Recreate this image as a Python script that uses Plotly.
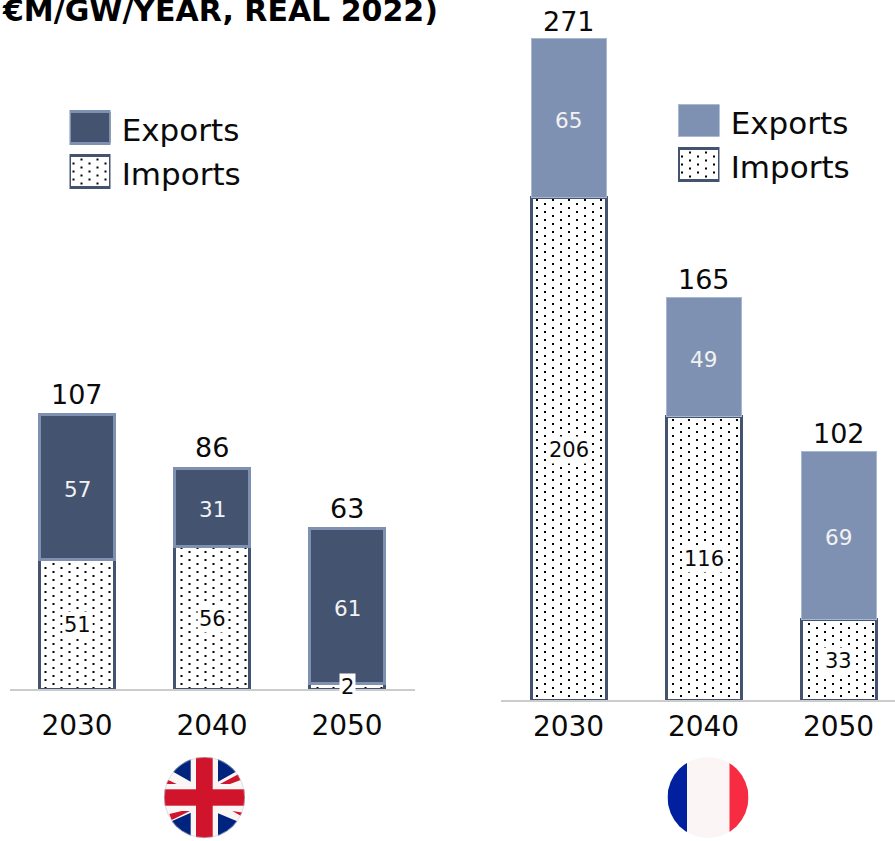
import base64
import plotly.graph_objects as go

YEARS = ["2030", "2040", "2050"]
UK_EXPORTS = [57, 31, 61]
UK_IMPORTS = [51, 56, 2]
UK_TOTALS = [107, 86, 63]
FR_EXPORTS = [65, 49, 69]
FR_IMPORTS = [206, 116, 33]
FR_TOTALS = [271, 165, 102]
LEGEND_ITEMS = ["Imports", "Exports"]
TITLE = "€M/GW/YEAR, REAL 2022)"

W, H = 895, 841
FONT = "DejaVu Sans"
DARK = "#435370"
MID = "#7f91b3"
BLACK = "#0a0a0a"


def dx(a, b):
    return [a / W, b / W]


def dy(top, bottom):
    return [1 - bottom / H, 1 - top / H]


fig = go.Figure()
BAR_W = 75 / 135
DOTS = dict(shape=".", size=16, solidity=0.03, fgcolor="#000000", bgcolor="#ffffff", fillmode="replace")
IMP_MARKER = dict(color="#ffffff", line=dict(color=DARK, width=3), pattern=DOTS)
UK_EXP_MARKER = dict(color=DARK, line=dict(color=MID, width=3))
FR_EXP_MARKER = dict(color=MID, line=dict(color="#a9b7d1", width=1))


def panel(xa, ya, imports, exports, exp_marker):
    fig.add_bar(x=YEARS, y=imports, name="Imports", xaxis=xa, yaxis=ya, width=BAR_W,
                marker=IMP_MARKER, showlegend=False, hoverinfo="skip")
    fig.add_bar(x=YEARS, y=exports, name="Exports", xaxis=xa, yaxis=ya, width=BAR_W,
                marker=exp_marker, showlegend=False, hoverinfo="skip")


def legend(xa, ya, exp_marker):
    fig.add_bar(y=[LEGEND_ITEMS[0]], x=[1], orientation="h", xaxis=xa, yaxis=ya, width=0.72,
                marker=IMP_MARKER, showlegend=False, hoverinfo="skip", cliponaxis=False)
    fig.add_bar(y=[LEGEND_ITEMS[1]], x=[1], orientation="h", xaxis=xa, yaxis=ya, width=0.72,
                marker=exp_marker, showlegend=False, hoverinfo="skip", cliponaxis=False)


panel("x", "y", UK_IMPORTS, UK_EXPORTS, UK_EXP_MARKER)
panel("x2", "y2", FR_IMPORTS, FR_EXPORTS, FR_EXP_MARKER)
legend("x3", "y3", UK_EXP_MARKER)
legend("x4", "y4", FR_EXP_MARKER)

annotations = [dict(text=f"<b>{TITLE}</b>", xref="paper", yref="paper", x=439.5 / W, y=1 - 21 / H,
                    xanchor="right", yanchor="bottom", showarrow=False, yshift=-9,
                    font=dict(family=FONT, size=30, color="#000000"))]


def labels(xa, ya, imports, exports, totals, total_shift):
    for i, (imp, exp, tot) in enumerate(zip(imports, exports, totals)):
        annotations.append(dict(text=str(imp), x=i, y=imp / 2, xref=xa, yref=ya, showarrow=False, yshift=-1,
                                bgcolor="#ffffff", borderpad=1, font=dict(family=FONT, size=21, color=BLACK)))
        annotations.append(dict(text=str(exp), x=i, y=imp + exp / 2, xref=xa, yref=ya, showarrow=False, yshift=-2,
                                font=dict(family=FONT, size=21.5, color="#f2f2f2")))
        annotations.append(dict(text=str(tot), x=i, y=imp + exp, xref=xa, yref=ya, showarrow=False,
                                yanchor="bottom", yshift=total_shift, font=dict(family=FONT, size=27, color=BLACK)))


labels("x", "y", UK_IMPORTS, UK_EXPORTS, UK_TOTALS, 3)
labels("x2", "y2", FR_IMPORTS, FR_EXPORTS, FR_TOTALS, 0)

xbase = dict(type="category", categoryorder="array", categoryarray=YEARS, showgrid=False, zeroline=False,
             showline=True, linecolor="#cccccc", linewidth=2, ticks="outside",
             tickcolor="rgba(0,0,0,0)", tickfont=dict(family=FONT, size=28, color=BLACK))
ybase = dict(visible=False, showgrid=False, zeroline=False)
lx = dict(visible=False, range=[0, 1], showgrid=False, zeroline=False)
ly = dict(type="category", categoryorder="array", categoryarray=LEGEND_ITEMS, range=[-0.5, 1.5],
          side="right", showgrid=False, zeroline=False, showline=False, ticks="outside", ticklen=4,
          ticklabelshift=3, tickcolor="rgba(0,0,0,0)", tickfont=dict(family=FONT, size=31, color=BLACK))

UK_SVG = """<svg xmlns='http://www.w3.org/2000/svg' viewBox='0 0 81 81'>
<defs><clipPath id='c'><circle cx='40.5' cy='40.5' r='40.5'/></clipPath></defs>
<g clip-path='url(#c)'><rect width='81' height='81' fill='#faf6f5'/>
<path d='M26.7 0H6V13L26.7 24.7ZM54 0H75V13L54 24.7ZM26.7 81H6V65L26.7 55.7ZM54 81H75V65L54 56.3Z' fill='#00247d'/>
<path d='M0 21L12.7 27H0ZM56 27L74.3 17.3L76.7 23L66 27ZM5.3 57L17.7 54H26L7.7 63ZM68.3 54L81 56V60L76.7 58.7Z' fill='#cf142b'/>
<rect x='32' width='16.7' height='81' fill='#cf142b'/><rect y='32.3' width='81' height='16.4' fill='#cf142b'/>
</g><circle cx='40.5' cy='40.5' r='40.2' fill='none' stroke='#c5cbdc' stroke-width='0.6'/></svg>"""
FR_SVG = """<svg xmlns='http://www.w3.org/2000/svg' viewBox='0 0 81 81'>
<defs><clipPath id='c'><circle cx='40.5' cy='40.5' r='40.5'/></clipPath></defs>
<g clip-path='url(#c)'><rect width='81' height='81' fill='#fbf6f5'/>
<rect width='19.5' height='81' fill='#00209f'/><rect x='62' width='19' height='81' fill='#f72c42'/>
</g></svg>"""


def flag(svg, left):
    uri = "data:image/svg+xml;base64," + base64.b64encode(svg.encode()).decode()
    return dict(source=uri, xref="paper", yref="paper", x=left / W, y=1 - 757 / H,
                sizex=81 / W, sizey=81 / H, xanchor="left", yanchor="top", sizing="stretch", layer="above")


UK_SCALE, FR_SCALE = 2.54, 2.44
fig.update_layout(
    width=W, height=H, margin=dict(l=0, r=0, t=0, b=0), paper_bgcolor="#ffffff", plot_bgcolor="rgba(0,0,0,0)",
    barmode="stack", showlegend=False, annotations=annotations, font=dict(family=FONT),
    images=[flag(UK_SVG, 164), flag(FR_SVG, 667.5)],
    xaxis=dict(xbase, domain=dx(9.5, 414.5), range=[-0.5, 2.5], anchor="y", ticklen=10),
    yaxis=dict(ybase, domain=dy(30, 689), range=[0, 659 / UK_SCALE], anchor="x"),
    xaxis2=dict(xbase, domain=dx(501, 895), range=[-0.5, 2.4185], anchor="y2", ticklen=0),
    yaxis2=dict(ybase, domain=dy(30, 700), range=[0, 670 / FR_SCALE], anchor="x2"),
    xaxis3=dict(lx, domain=dx(69.5, 110.5), anchor="y3"),
    yaxis3=dict(ly, domain=dy(105.5, 193.5), anchor="x3"),
    xaxis4=dict(lx, domain=dx(678, 719.5), anchor="y4"),
    yaxis4=dict(ly, domain=dy(98.5, 186.5), anchor="x4"),
)

POST = """
document.body.style.margin = '0';
document.documentElement.style.overflow = 'hidden';
document.querySelectorAll('pattern').forEach(function (p) {
  var ns = 'http://www.w3.org/2000/svg';
  var dots = [[3, 1], [11, 5], [3, 9], [11, 13]];
  p.querySelectorAll('circle').forEach(function (c) { c.remove(); });
  dots.forEach(function (d) {
    var r = document.createElementNS(ns, 'rect');
    r.setAttribute('x', d[0]); r.setAttribute('y', d[1]);
    r.setAttribute('width', 2); r.setAttribute('height', 2);
    r.setAttribute('fill', '#000');
    p.appendChild(r);
  });
});
"""
fig.write_html("out.html", post_script=POST, config={"displayModeBar": False})
